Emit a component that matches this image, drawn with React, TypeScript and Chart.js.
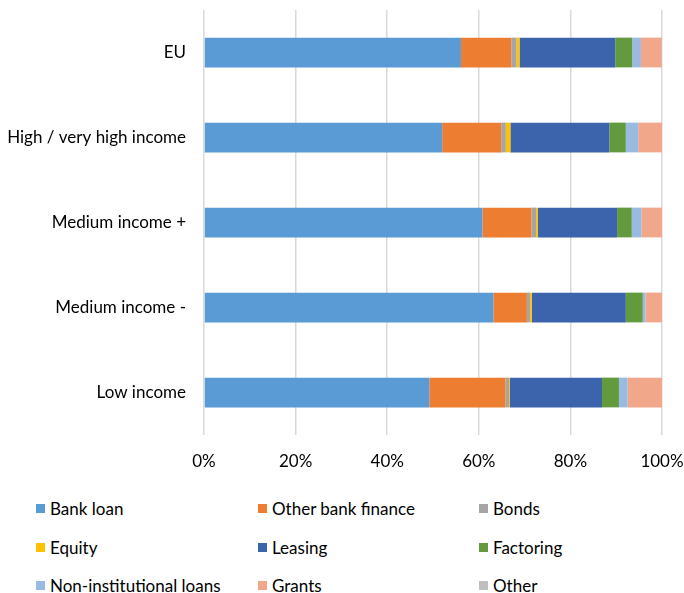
import React, { useEffect, useRef } from "react";
import { Chart, registerables } from "chart.js";

Chart.register(...registerables);

const categories = ["EU", "High / very high income", "Medium income +", "Medium income -", "Low income"];
const seriesNames = ["Bank loan", "Other bank finance", "Bonds", "Equity", "Leasing", "Factoring", "Non-institutional loans", "Grants", "Other"];
const bankLoan = [56.1, 52.0, 60.8, 63.2, 49.2];
const otherBankFinance = [11.0, 12.9, 10.7, 7.3, 16.6];
const bonds = [1.1, 1.0, 1.0, 0.7, 0.8];
const equity = [0.7, 1.0, 0.4, 0.4, 0.2];
const leasing = [20.9, 21.6, 17.3, 20.5, 20.1];
const factoring = [3.7, 3.6, 3.2, 3.7, 3.7];
const nonInstitutional = [1.9, 2.7, 2.1, 0.6, 1.9];
const grants = [4.5, 5.2, 4.5, 3.6, 7.5];
const other = [0.1, 0.0, 0.0, 0.0, 0.0];
const xTicks = [0, 20, 40, 60, 80, 100];
const colors = ["#5B9BD5", "#ED7D31", "#A5A5A5", "#FFC000", "#3C64AD", "#639A3E", "#9ABAE2", "#F1A78A", "#BFBFBF"];

const seriesValues = [bankLoan, otherBankFinance, bonds, equity, leasing, factoring, nonInstitutional, grants, other];
const FONT = "Lato, 'Open Sans', sans-serif";

export default function App() {
  const ref = useRef<HTMLCanvasElement | null>(null);
  useEffect(() => {
    if (!ref.current) return;
    const chart = new Chart(ref.current, {
      type: "bar",
      data: {
        labels: categories,
        datasets: seriesNames.map((name, i) => ({
          label: name,
          data: seriesValues[i],
          backgroundColor: colors[i],
          borderWidth: 0,
          barPercentage: 0.7,
          categoryPercentage: 0.5,
        })),
      },
      options: {
        indexAxis: "y",
        animation: false,
        responsive: false,
        maintainAspectRatio: false,
        layout: { padding: { top: 10, right: 22, left: 0, bottom: 0 } },
        plugins: { legend: { display: false }, tooltip: { enabled: false } },
        scales: {
          x: {
            stacked: true,
            min: 0,
            max: 100,
            afterBuildTicks: (s: any) => {
              s.ticks = xTicks.map((v) => ({ value: v }));
            },
            afterFit: (s: any) => {
              s.height = 45;
              s.paddingLeft = 0;
              s.paddingRight = 0;
            },
            ticks: {
              callback: (v: any) => v + "%",
              color: "#000000",
              font: { family: FONT, size: 17 },
              padding: 16,
              maxRotation: 0,
            },
            grid: { color: "#D9D9D9", lineWidth: 1.5, drawTicks: false },
            border: { display: false },
          },
          y: {
            stacked: true,
            afterFit: (s: any) => {
              s.width = 204;
              s.paddingTop = 0;
              s.paddingBottom = 0;
            },
            ticks: {
              color: "#000000",
              font: { family: FONT, size: 17 },
              padding: 18,
            },
            grid: { display: false, drawTicks: false },
            border: { display: false },
          },
        },
      },
    });
    return () => chart.destroy();
  }, []);

  const legendCols = [36, 258, 479];
  const legendRows = [508, 547, 585];

  return (
    <div style={{ position: "absolute", left: 0, top: 0, width: 684, height: 593, background: "#fff", fontFamily: FONT }}>
      <canvas ref={ref} width={684} height={480} style={{ position: "absolute", left: 0, top: 0, width: 684, height: 480 }} />
      {seriesNames.map((name, i) => (
        <div
          key={name}
          style={{
            position: "absolute",
            left: legendCols[i % 3],
            top: legendRows[Math.floor(i / 3)] - 11,
            height: 22,
            display: "flex",
            alignItems: "center",
            fontSize: 17,
            color: "#000",
            whiteSpace: "nowrap",
          }}
        >
          <span style={{ display: "inline-block", width: 9, height: 9, background: colors[i], marginRight: 5 }} />
          <span>{name}</span>
        </div>
      ))}
    </div>
  );
}
